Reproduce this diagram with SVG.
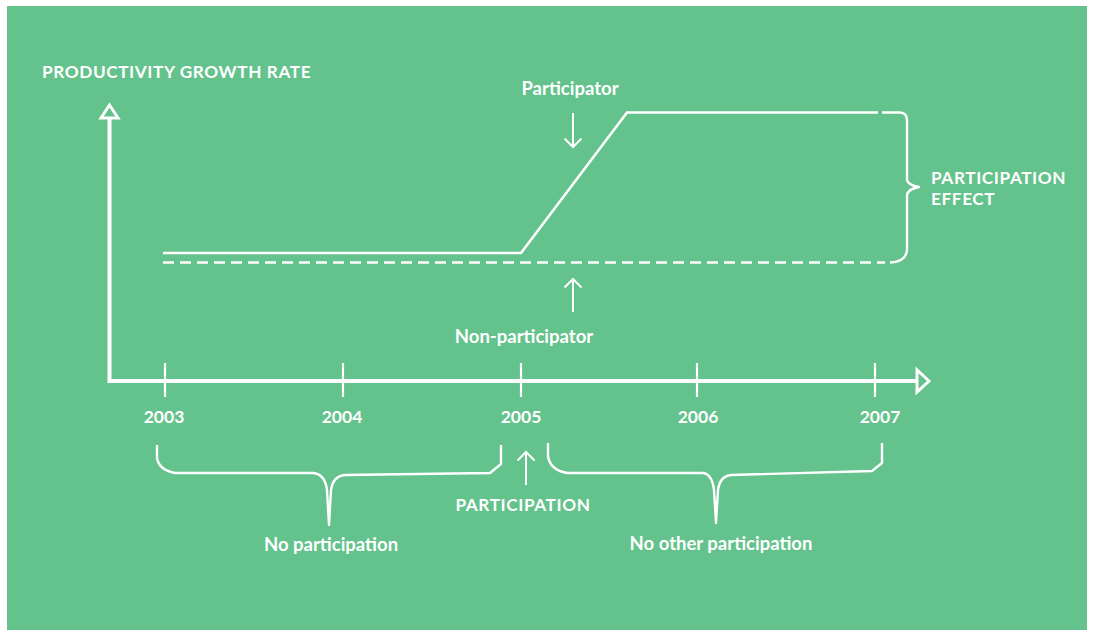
<svg xmlns="http://www.w3.org/2000/svg" width="1093" height="632" viewBox="0 0 1093 632">
  <defs>
    <style>
      .bg { fill: #64c28c; }
      .txt { font-family: Lato, "Open Sans", "Liberation Sans", sans-serif; font-weight: 700; fill: #ffffff; }
      .caps { font-size: 17.2px; letter-spacing: 0.6px; }
      .lbl { font-size: 18.5px; }
      .year { font-size: 17.5px; }
      .axis { stroke: #ffffff; stroke-width: 4; fill: none; }
      .tick { stroke: #ffffff; stroke-width: 2.2; fill: none; }
      .line { stroke: #ffffff; stroke-width: 2.6; fill: none; stroke-linejoin: miter; }
      .dash { stroke: #ffffff; stroke-width: 2.6; fill: none; stroke-dasharray: 11 6; }
      .brace { stroke: #ffffff; stroke-width: 2.4; fill: none; stroke-linejoin: round; }
      .arrow { stroke: #ffffff; stroke-width: 2; fill: none; }
      .head { stroke: #ffffff; stroke-width: 3; fill: none; stroke-linejoin: miter; }
    </style>
  </defs>

  <rect class="bg" x="7" y="6" width="1080" height="624"/>

  <!-- axes -->
  <g id="axes">
    <path class="axis" d="M109.5 118 V381 H918"/>
    <path class="head" d="M109.5 105 L118 118 H101 Z"/>
    <path class="head" d="M929 381 L917 370 V392 Z"/>
    <path class="tick" d="M165 363 V397 M343 363 V397 M521 363 V397 M697 363 V397 M875 363 V397"/>
  </g>

  <g id="axis-labels">
    <text class="txt caps" x="42" y="78">PRODUCTIVITY GROWTH RATE</text>
    <text class="txt year" x="164" y="423" text-anchor="middle">2003</text>
    <text class="txt year" x="342" y="423" text-anchor="middle">2004</text>
    <text class="txt year" x="521" y="423" text-anchor="middle">2005</text>
    <text class="txt year" x="698" y="423" text-anchor="middle">2006</text>
    <text class="txt year" x="880" y="423" text-anchor="middle">2007</text>
  </g>

  <!-- growth paths -->
  <g id="connectors">
    <path id="participator-line" class="line" d="M163 253 H521 L627 112.5 H878 M882 112.5 H900"/>
    <path id="non-participator-line" class="dash" d="M163 262.5 H885"/>
    <path id="effect-brace" class="brace" d="M900 112.5 Q907 113 907 120 V180 Q908 185 919 187 Q908 189 907 195 V250 Q906 262 890 262.5"/>
    <path id="participator-arrow" class="arrow" d="M573 113 V147 M564.5 138.5 L573 147 L581.5 138.5"/>
    <path id="non-participator-arrow" class="arrow" d="M573 312 V279 M564.5 287.5 L573 279 L581.5 287.5"/>
    <path id="participation-arrow" class="arrow" d="M526 485 V452 M517.5 460.5 L526 452 L534.5 460.5"/>
    <path id="brace-before" class="brace" d="M157 445 V458 Q159 470 175 473 H313 Q325 474 327 490 L329 525 L331 490 Q333 476 345 475 L490 473 L501 464 V445"/>
    <path id="brace-after" class="brace" d="M548 443 V456 Q550 470 567 473 H703 Q712 474 714 490 L716 523 L718 490 Q720 476 731 475 L872 471 L882 463 V443"/>
  </g>

  <g id="participator">
    <text class="txt lbl" x="570" y="95" text-anchor="middle">Participator</text>
  </g>
  <g id="non-participator">
    <text class="txt lbl" x="524" y="343" text-anchor="middle">Non-participator</text>
  </g>
  <g id="participation-effect">
    <text class="txt caps" x="931" y="184">PARTICIPATION</text>
    <text class="txt caps" x="931" y="205">EFFECT</text>
  </g>
  <g id="participation">
    <text class="txt caps" x="523" y="511" text-anchor="middle">PARTICIPATION</text>
  </g>
  <g id="no-participation">
    <text class="txt lbl" x="331" y="551" text-anchor="middle">No participation</text>
  </g>
  <g id="no-other-participation">
    <text class="txt lbl" x="721" y="550" text-anchor="middle">No other participation</text>
  </g>
</svg>
